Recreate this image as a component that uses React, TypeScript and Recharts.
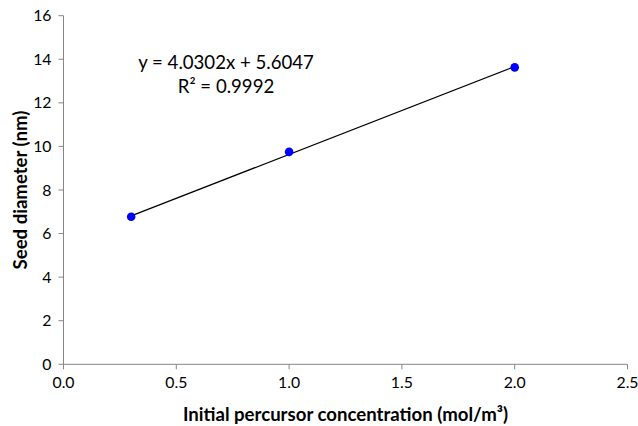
import { ScatterChart, Scatter, XAxis, YAxis, Label } from 'recharts';

// measured seed diameters
const concentrations = [0.3, 1.0, 2.0];
const diameters = [6.77, 9.75, 13.63];

// linear trendline endpoints (y = 4.0302x + 5.6047)
const trendX = [0.3, 2.0];
const trendY = [6.814, 13.665];

const xTicks = [0, 0.5, 1.0, 1.5, 2.0, 2.5];
const yTicks = [0, 2, 4, 6, 8, 10, 12, 14, 16];

const equationText = 'y = 4.0302x + 5.6047';
const r2Text = 'R² = 0.9992';

const FONT = 'Lato, "Open Sans", sans-serif';
const AXIS_GRAY = '#868686';

export default function App() {
  const points = concentrations.map((c, i) => ({ x: c, y: diameters[i] }));
  const trend = trendX.map((x, i) => ({ x, y: trendY[i] }));

  return (
    <div style={{ position: 'absolute', left: 0, top: 0, width: 638, height: 426, background: '#fff', fontFamily: FONT }}>
      <ScatterChart width={638} height={426} margin={{ top: 15.7, right: 10.5, bottom: 21.7, left: 0 }}>
        <XAxis
          type="number"
          dataKey="x"
          domain={[0, 2.5]}
          ticks={xTicks}
          tickFormatter={(v) => Number(v).toFixed(1)}
          height={40}
          tickSize={5}
          tickMargin={7}
          stroke={AXIS_GRAY}
          tick={{ fill: '#000', fontSize: 15.8, fontFamily: FONT }}
          allowDataOverflow
        >
          <Label
            content={({ viewBox }: any) => (
              <text
                x={viewBox.x + viewBox.width / 2}
                y={414}
                textAnchor="middle"
                dominantBaseline="central"
                fontSize={18.6}
                fontWeight="bold"
                fontFamily={FONT}
                fill="#000"
              >
                Initial percursor concentration (mol/m³)
              </text>
            )}
          />
        </XAxis>
        <YAxis
          type="number"
          dataKey="y"
          domain={[0, 16]}
          ticks={yTicks}
          width={63.5}
          tickSize={5}
          tickMargin={7}
          stroke={AXIS_GRAY}
          tick={{ fill: '#000', fontSize: 15.8, fontFamily: FONT }}
          allowDataOverflow
        >
          <Label
            content={({ viewBox }: any) => {
              const cy = viewBox.y + viewBox.height / 2;
              return (
                <text
                  x={19.5}
                  y={cy}
                  transform={`rotate(-90, 19.5, ${cy})`}
                  textAnchor="middle"
                  dominantBaseline="central"
                  fontSize={18.6}
                  fontWeight="bold"
                  fontFamily={FONT}
                  fill="#000"
                >
                  Seed diameter (nm)
                </text>
              );
            }}
          />
        </YAxis>
        <Scatter
          data={trend}
          line={{ stroke: '#000', strokeWidth: 1.2 }}
          shape={() => <g />}
          isAnimationActive={false}
        />
        <Scatter
          data={points}
          fill="#0000FF"
          shape={(p: any) => <circle cx={p.cx} cy={p.cy} r={4.3} fill="#0000FF" />}
          isAnimationActive={false}
        />
      </ScatterChart>
      <div
        style={{
          position: 'absolute',
          left: 126,
          top: 50,
          width: 200,
          textAlign: 'center',
          fontSize: 18.6,
          lineHeight: '24px',
          color: '#000',
          fontFamily: FONT,
        }}
      >
        <div>{equationText}</div>
        <div>{r2Text}</div>
      </div>
    </div>
  );
}
